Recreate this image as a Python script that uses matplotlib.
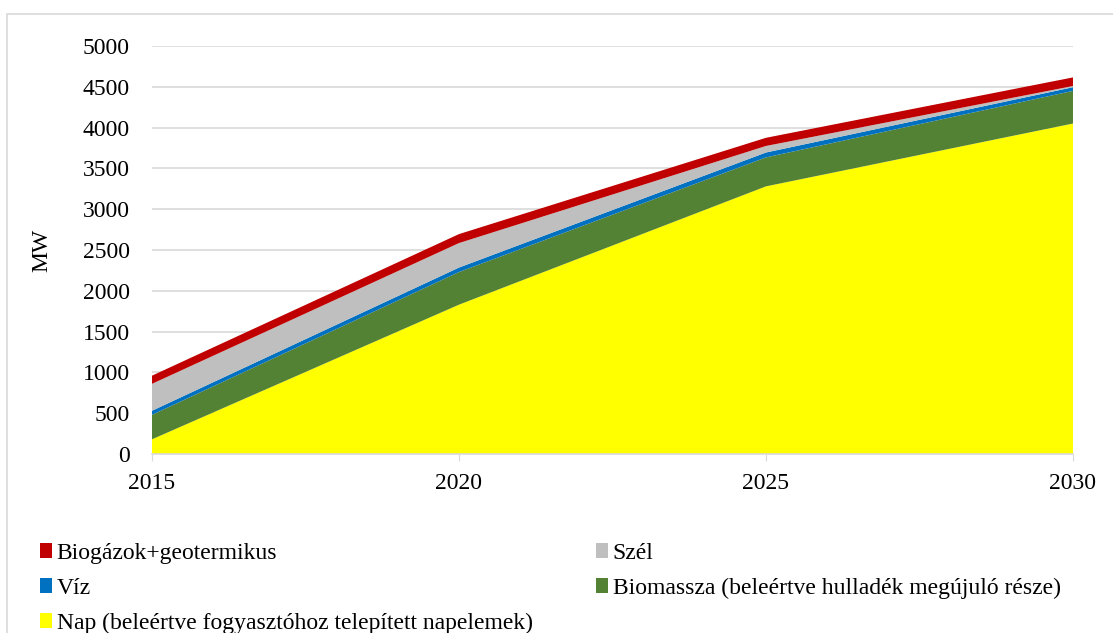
import matplotlib.pyplot as plt
from matplotlib.patches import Rectangle, Patch

plt.rcParams['font.family'] = ['Liberation Serif', 'DejaVu Serif']

years = [2015, 2020, 2025, 2030]
nap = [180, 1830, 3280, 4050]
biomassza = [300, 400, 355, 400]
viz = [50, 55, 60, 45]
szel = [330, 300, 80, 15]
biogaz = [100, 110, 100, 105]

labels = ["Nap (beleértve fogyasztóhoz telepített napelemek)",
          "Biomassza (beleértve hulladék megújuló része)",
          "Víz", "Szél", "Biogázok+geotermikus"]
colors = ["#FFFF00", "#548235", "#0070C0", "#BFBFBF", "#C00000"]

fig = plt.figure(figsize=(11.13, 6.33), dpi=100)
fig.patches.append(Rectangle((7 / 1113, -0.01), 1.1, (633 - 14) / 633 + 0.01,
                             transform=fig.transFigure, fill=False,
                             edgecolor="#D9D9D9", linewidth=1.2))

ax = fig.add_axes([152 / 1113, (633 - 454) / 633, (1073 - 152) / 1113, (454 - 46) / 633])
ax.stackplot(years, nap, biomassza, viz, szel, biogaz, colors=colors, linewidth=0)

ax.set_xlim(2015, 2030)
ax.set_ylim(0, 5000)
ax.set_xticks(years)
ax.set_yticks(range(0, 5001, 500))
ax.grid(axis="y", color="#D9D9D9", linewidth=1.2)
ax.set_axisbelow(True)
for side in ["left", "right", "top"]:
    ax.spines[side].set_visible(False)
ax.spines["bottom"].set_color("#D9D9D9")
ax.spines["bottom"].set_linewidth(1.2)
ax.tick_params(axis="y", length=0, labelsize=17, pad=16)
ax.tick_params(axis="x", length=5, color="#D9D9D9", labelsize=17, pad=9)
ax.set_ylabel("MW", fontsize=17, labelpad=22)

# two columns filled top-down: red, blue, yellow | gray, green
order = [4, 2, 0, 3, 1]
handles = [Patch(facecolor=colors[i], edgecolor="none") for i in order]
fig.legend(handles, [labels[i] for i in order], ncol=2, loc="upper left",
           bbox_to_anchor=(40 / 1113, 1 - 543 / 633), frameon=False, fontsize=17,
           handlelength=0.5, handleheight=0.6, handletextpad=0.2,
           columnspacing=2.7, labelspacing=0.58, borderaxespad=0, borderpad=0)

fig.savefig("out.png", dpi=100)
